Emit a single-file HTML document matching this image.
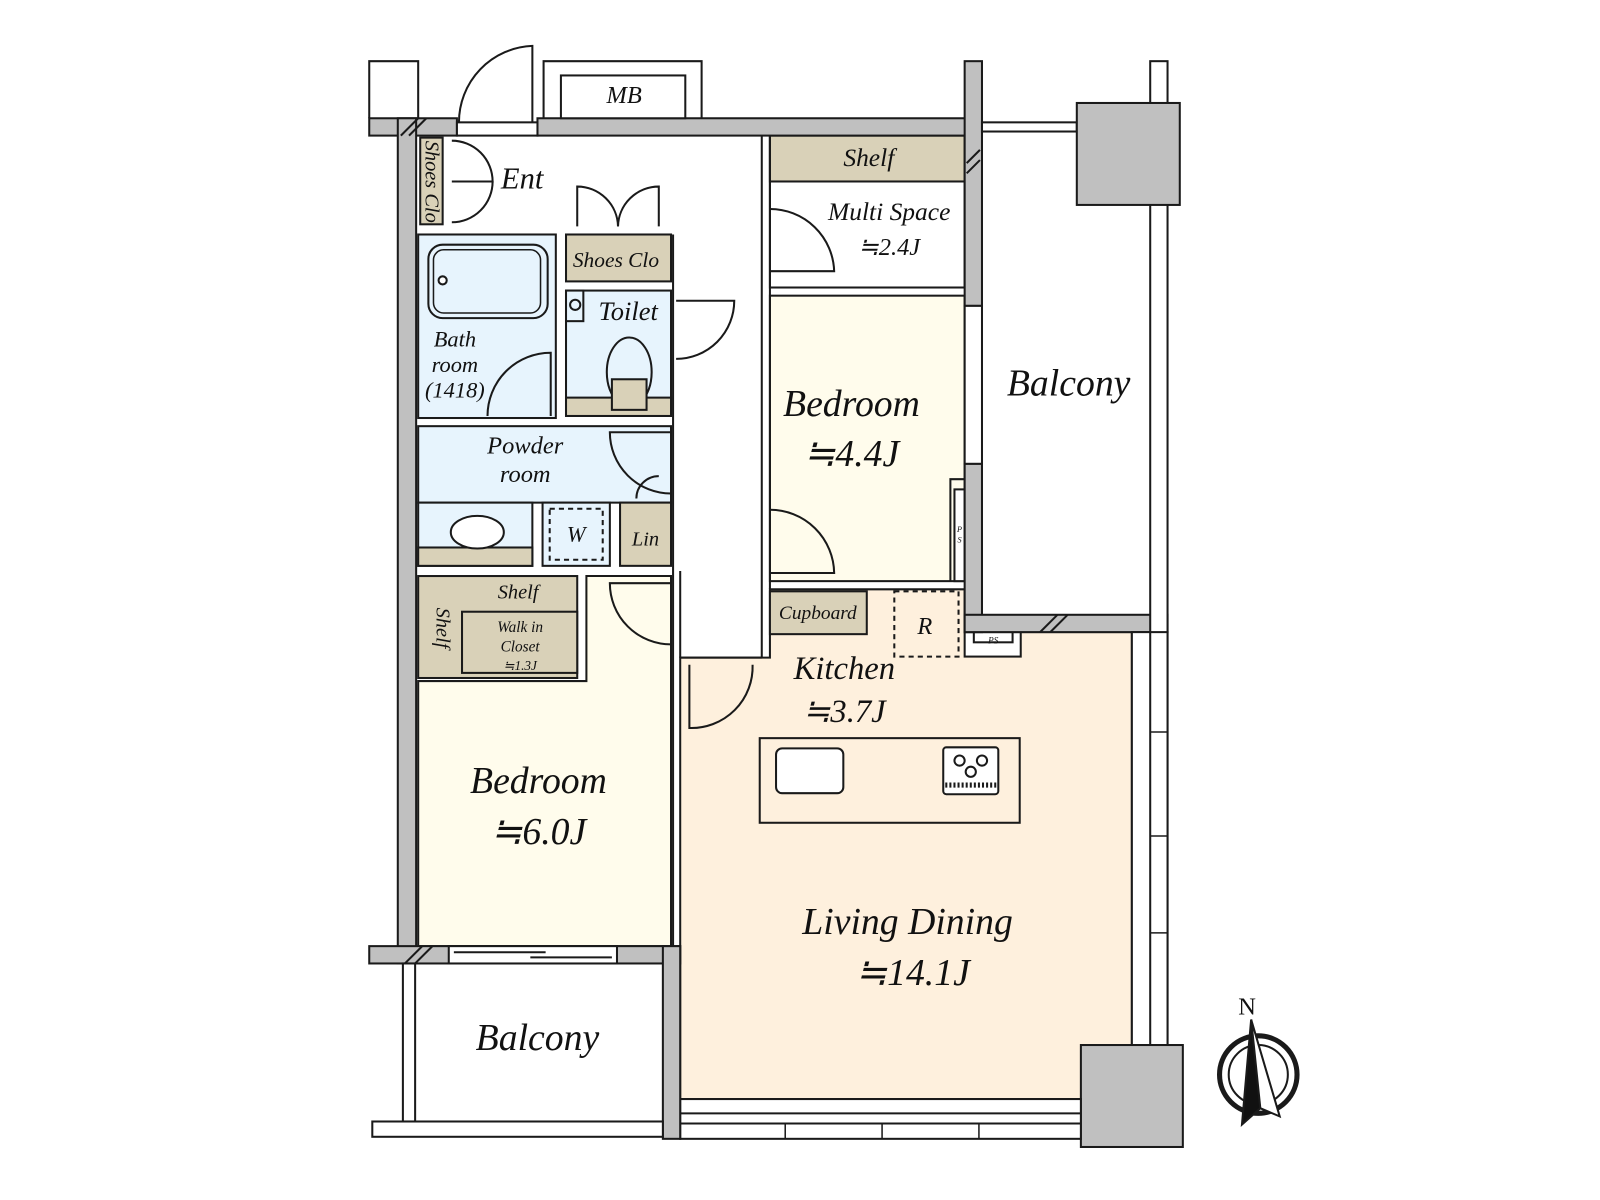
<!DOCTYPE html>
<html><head><meta charset="utf-8"><style>
html,body{margin:0;padding:0;background:#fff;}
svg{display:block;}
text{font-family:"Liberation Serif",serif;font-style:italic;fill:#111;}
</style></head><body>
<svg width="1600" height="1200" viewBox="0 0 1569 1177" xmlns="http://www.w3.org/2000/svg">
<g stroke="#1a1a1a" stroke-width="2">
<polygon points="667,645 755,645 755,578 946,578 946,620 1110,620 1110,1078 667,1078" fill="#fef0dd"/>
<rect x="755" y="290" width="191" height="280" fill="#fffcec"/>
<polyline points="946,470 932,470 932,570" fill="none"/>
<rect x="936" y="480" width="10" height="90" fill="#fff"/>
<polygon points="575,565 658,565 658,928 410,928 410,668 575,668" fill="#fffcec"/>
<rect x="410" y="565" width="156" height="100" fill="#d9d1b8"/>
<rect x="453" y="600" width="113" height="60" fill="#d9d1b8"/>
<rect x="755" y="133" width="191" height="149" fill="#fff"/>
<rect x="755" y="133" width="191" height="45" fill="#d9d1b8"/>
<rect x="412" y="135" width="22" height="85" fill="#d9d1b8"/>
<rect x="410" y="230" width="135" height="180" fill="#e7f4fd"/>
<rect x="420" y="240" width="117" height="72" rx="14" fill="#e7f4fd"/>
<rect x="425" y="245" width="105" height="62" rx="10" fill="none" stroke-width="1.5"/>
<circle cx="434" cy="275" r="4" fill="#fff"/>
<rect x="555" y="230" width="103" height="46" fill="#d9d1b8"/>
<rect x="555" y="285" width="103" height="123" fill="#e7f4fd"/>
<rect x="555" y="390" width="103" height="18" fill="#d9d1b8"/>
<rect x="555" y="285" width="17" height="30" fill="#e7f4fd"/>
<circle cx="564" cy="299" r="5" fill="none"/>
<ellipse cx="617" cy="365" rx="22" ry="34" fill="#e7f4fd"/>
<rect x="600" y="372" width="34" height="30" fill="#d9d1b8"/>
<rect x="410" y="418" width="248" height="75" fill="#e7f4fd"/>
<rect x="410" y="493" width="112" height="62" fill="#e7f4fd"/>
<rect x="410" y="537" width="112" height="18" fill="#d9d1b8"/>
<ellipse cx="468" cy="522" rx="26" ry="16" fill="#fff"/>
<rect x="532" y="493" width="66" height="62" fill="#e7f4fd"/>
<rect x="539" y="499" width="52" height="50" fill="none" stroke-dasharray="5,4"/>
<rect x="608" y="493" width="50" height="62" fill="#d9d1b8"/>
<rect x="755" y="580" width="95" height="42" fill="#d9d1b8"/>
<rect x="877" y="580" width="63" height="64" fill="none" stroke-dasharray="5,4"/>
<rect x="946" y="620" width="55" height="24" fill="#fff"/>
<rect x="955" y="620" width="38" height="10" fill="#fff"/>
<rect x="745" y="724" width="255" height="83" fill="#fef0dd"/>
<rect x="761" y="734" width="66" height="44" rx="6" fill="#fff"/>
<rect x="925" y="733" width="54" height="46" rx="3" fill="#fff"/>
<circle cx="941" cy="746" r="5" fill="none"/><circle cx="963" cy="746" r="5" fill="none"/><circle cx="952" cy="757" r="5" fill="none"/>
<line x1="927" y1="770" x2="977" y2="770" stroke-dasharray="2,2" stroke-width="5"/>
<rect x="362" y="116" width="86" height="17" fill="#c0c0c0"/>
<rect x="527" y="116" width="436" height="17" fill="#c0c0c0"/>
<rect x="448" y="120" width="79" height="13" fill="#fff"/>
<rect x="390" y="116" width="18" height="829" fill="#c0c0c0"/>
<rect x="946" y="60" width="17" height="240" fill="#c0c0c0"/>
<rect x="946" y="300" width="17" height="155" fill="#fff"/>
<rect x="946" y="455" width="17" height="165" fill="#c0c0c0"/>
<rect x="946" y="603" width="199" height="17" fill="#c0c0c0"/>
<rect x="1128" y="60" width="17" height="965" fill="#fff"/>
<rect x="963" y="120" width="93" height="9" fill="#fff"/>
<rect x="1056" y="101" width="101" height="100" fill="#c0c0c0"/>
<rect x="1110" y="620" width="35" height="405" fill="#fff"/>
<line x1="1128" y1="620" x2="1128" y2="1025"/>
<g stroke-width="1.5"><line x1="1128" y1="718" x2="1145" y2="718"/><line x1="1128" y1="820" x2="1145" y2="820"/><line x1="1128" y1="915" x2="1145" y2="915"/></g>
<rect x="1060" y="1025" width="100" height="100" fill="#c0c0c0"/>
<rect x="667" y="1078" width="393" height="39" fill="#fff"/>
<line x1="667" y1="1092" x2="1060" y2="1092"/><line x1="667" y1="1102" x2="1060" y2="1102"/>
<g stroke-width="1.5"><line x1="770" y1="1102" x2="770" y2="1117"/><line x1="865" y1="1102" x2="865" y2="1117"/><line x1="960" y1="1102" x2="960" y2="1117"/></g>
<rect x="362" y="928" width="305" height="17" fill="#c0c0c0"/>
<rect x="440" y="928" width="165" height="17" fill="#fff"/>
<line x1="445" y1="934" x2="535" y2="934"/><line x1="520" y1="939" x2="600" y2="939"/>
<rect x="650" y="928" width="17" height="189" fill="#c0c0c0"/>
<rect x="395" y="945" width="12" height="155" fill="#fff"/>
<rect x="365" y="1100" width="285" height="15" fill="#fff"/>
<polyline points="362,116 362,60 410,60 410,116" fill="none"/>
<polyline points="533,116 533,60 688,60 688,116" fill="none"/>
<rect x="550" y="74" width="122" height="42" fill="#fff"/>
<line x1="660" y1="230" x2="660" y2="928"/>
<line x1="667" y1="560" x2="667" y2="645"/>
<line x1="747" y1="133" x2="747" y2="645"/>
<line x1="755" y1="133" x2="755" y2="578"/>
<line x1="667" y1="645" x2="747" y2="645"/>
<path d="M522,120 L522,45 A75,75 0 0 0 450,120" fill="none"/>
<path d="M443,138 A40,40 0 0 1 483,178 L443,178" fill="none"/>
<path d="M443,218 A40,40 0 0 0 483,178" fill="none"/>
<path d="M566,222 L566,183 A40,40 0 0 1 606,222" fill="none"/>
<path d="M646,222 L646,183 A40,40 0 0 0 606,222" fill="none"/>
<path d="M663,295 L720,295 A57,57 0 0 1 663,352" fill="none"/>
<path d="M478,408 A62,62 0 0 1 540,346 L540,408" fill="none"/>
<path d="M658,424 L598,424 A60,60 0 0 0 658,484" fill="none"/>
<path d="M646,467 A22,22 0 0 0 624,489" fill="none"/>
<path d="M658,572 L598,572 A60,60 0 0 0 658,632" fill="none"/>
<path d="M676,652 L676,714 A60,60 0 0 0 738,652" fill="none"/>
<path d="M755,205 A63,63 0 0 1 818,266 L755,266" fill="none"/>
<path d="M755,500 A63,63 0 0 1 818,562 L755,562" fill="none"/>
<g><line x1="393" y1="133" x2="410" y2="116"/><line x1="401" y1="133" x2="418" y2="116"/><line x1="948" y1="160" x2="961" y2="147"/><line x1="948" y1="170" x2="961" y2="157"/><line x1="397" y1="945" x2="414" y2="928"/><line x1="407" y1="945" x2="424" y2="928"/><line x1="1020" y1="620" x2="1037" y2="603"/><line x1="1030" y1="620" x2="1047" y2="603"/></g>
<circle cx="1234" cy="1054" r="38" fill="none" stroke-width="5"/>
<circle cx="1234" cy="1054" r="29" fill="none" stroke-width="2"/>
<polygon points="1227,1000 1218,1103 1236,1087" fill="#111"/>
<polygon points="1227,1000 1255,1095 1236,1087" fill="#fff"/>
</g>
<text x="612" y="101" font-size="24" text-anchor="middle">MB</text>
<text x="512" y="185" font-size="30" text-anchor="middle">Ent</text>
<text font-size="20" transform="translate(417,138) rotate(90)">Shoes Clo</text>
<text x="604" y="262" font-size="21" text-anchor="middle">Shoes Clo</text>
<text x="616" y="314" font-size="26" text-anchor="middle">Toilet</text>
<text x="446" y="340" font-size="22" text-anchor="middle">Bath</text>
<text x="446" y="365" font-size="22" text-anchor="middle">room</text>
<text x="446" y="390" font-size="22" text-anchor="middle">(1418)</text>
<text x="515" y="445" font-size="24" text-anchor="middle">Powder</text>
<text x="515" y="473" font-size="24" text-anchor="middle">room</text>
<text x="565" y="531" font-size="22" text-anchor="middle">W</text>
<text x="633" y="535" font-size="20" text-anchor="middle">Lin</text>
<text x="508" y="587" font-size="20" text-anchor="middle">Shelf</text>
<text font-size="20" transform="translate(428,596) rotate(90)">Shelf</text>
<text x="510" y="620" font-size="15" text-anchor="middle">Walk in</text>
<text x="510" y="639" font-size="15" text-anchor="middle">Closet</text>
<text x="510" y="657" font-size="13" text-anchor="middle">≒1.3J</text>
<text x="852" y="163" font-size="25" text-anchor="middle">Shelf</text>
<text x="872" y="216" font-size="25" text-anchor="middle">Multi Space</text>
<text x="872" y="250" font-size="24" text-anchor="middle">≒2.4J</text>
<text x="835" y="408" font-size="37" text-anchor="middle">Bedroom</text>
<text x="835" y="457" font-size="37" text-anchor="middle">≒4.4J</text>
<text x="1048" y="388" font-size="37" text-anchor="middle">Balcony</text>
<text x="802" y="607" font-size="19" text-anchor="middle">Cupboard</text>
<text x="907" y="622" font-size="24" text-anchor="middle">R</text>
<text x="974" y="631" font-size="9" text-anchor="middle">PS</text>
<text x="941" y="522" font-size="8" text-anchor="middle">P</text>
<text x="941" y="532" font-size="8" text-anchor="middle">S</text>
<text x="828" y="666" font-size="32" text-anchor="middle">Kitchen</text>
<text x="828" y="708" font-size="32" text-anchor="middle">≒3.7J</text>
<text x="528" y="778" font-size="37" text-anchor="middle">Bedroom</text>
<text x="528" y="828" font-size="37" text-anchor="middle">≒6.0J</text>
<text x="890" y="916" font-size="37" text-anchor="middle">Living Dining</text>
<text x="895" y="966" font-size="37" text-anchor="middle">≒14.1J</text>
<text x="527" y="1030" font-size="37" text-anchor="middle">Balcony</text>
<text x="1223" y="995" font-size="24" text-anchor="middle" style="font-style:normal">N</text>
</svg>
</body></html>
